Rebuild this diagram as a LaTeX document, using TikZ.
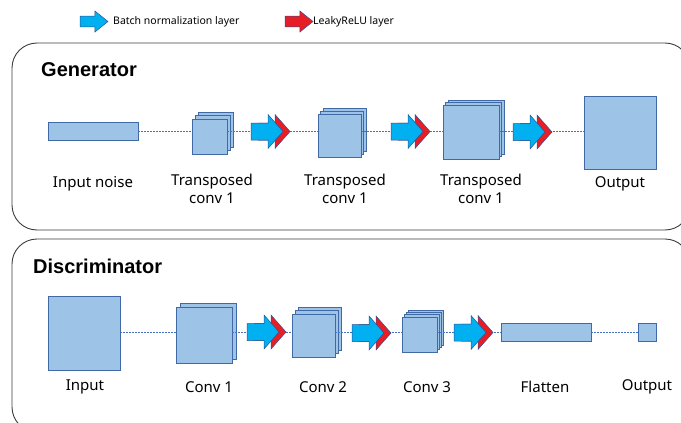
\documentclass[tikz,border=0pt]{standalone}
\usepackage{fontspec}
\setmainfont{Noto Sans}
\newfontfamily\titlefont{Liberation Sans}
\usepackage{tikz}
\usetikzlibrary{calc}

\definecolor{mapfill}{RGB}{157,195,230}
\definecolor{mapline}{RGB}{65,105,165}
\definecolor{bnblue}{RGB}{0,176,240}
\definecolor{relured}{RGB}{232,30,38}
\definecolor{arrowline}{RGB}{47,82,143}
\definecolor{linkblue}{RGB}{68,114,196}
\definecolor{frameline}{RGB}{60,60,60}

\tikzset{
  pics/bnshape/.style={code={
    \filldraw[fill=bnblue, draw=arrowline, line width=0.5pt]
      (0,-8.5) -- (17,-8.5) -- (17,-17) -- (32,0) -- (17,17) -- (17,8.5) -- (0,8.5) -- cycle;}},
  pics/relushape/.style={code={
    \filldraw[fill=relured, draw=arrowline, line width=0.5pt]
      (0,-8.5) -- (17,-8.5) -- (17,-17) -- (32,0) -- (17,17) -- (17,8.5) -- (0,8.5) -- cycle;}},
  pics/actarrow/.style={code={
    \pic at (7,0) {relushape};
    \pic at (0,0) {bnshape};}}
}

\begin{document}
\begin{tikzpicture}[x=1pt, y=-1pt,
  fmap/.style={draw=mapline, fill=mapfill, line width=0.9pt, inner sep=0},
  link/.style={draw=linkblue, line width=0.8pt, dash pattern=on 1.6pt off 1.4pt},
  frame/.style={draw=frameline, line width=0.9pt, rounded corners=25pt},
  title/.style={font=\titlefont\fontsize{20}{22}\selectfont\bfseries, inner sep=0, anchor=west},
  lbl/.style={font=\fontsize{15}{18}\selectfont, align=center, inner sep=0},
  legend/.style={font=\fontsize{10.5}{13}\selectfont, inner sep=0, anchor=west}]
  \useasboundingbox (0,0) rectangle (681,423);
  \clip (0,0) rectangle (681,423);

  % legend
  \pic[xscale=0.875, yscale=0.62] at (80,21.5) {bnshape};
  \node[legend] (bnlegend) at (113,21.5) {Batch normalization layer};
  \pic[xscale=0.875, yscale=0.62] at (285,21.5) {relushape};
  \node[legend] (relulegend) at (313,21.5) {LeakyReLU layer};

  % frames
  \draw[frame] (12,43) rectangle (690,230);
  \draw[frame] (12,239) rectangle (690,432);
  \node[title] (gentitle) at (41,70) {Generator};
  \node[title] (distitle) at (33,266) {Discriminator};

  % generator
  \node[fmap, minimum width=90pt, minimum height=18pt] (noise) at (93,131) {};
  \foreach \k in {2,1}
    \node[fmap, minimum size=35pt] at (209.5+\k*3.3, 136.5-\k*3.3) {};
  \node[fmap, minimum size=35pt] (tconv1) at (209.5,136.5) {};
  \foreach \k in {2,1}
    \node[fmap, minimum size=43pt] at (339.5+\k*2.6, 135.5-\k*2.6) {};
  \node[fmap, minimum size=43pt] (tconv2) at (339.5,135.5) {};
  \foreach \k in {2,1}
    \node[fmap, minimum width=56pt, minimum height=54pt] at (471+\k*2.5, 132-\k*2.5) {};
  \node[fmap, minimum width=56pt, minimum height=54pt] (tconv3) at (471,132) {};
  \node[fmap, minimum width=72pt, minimum height=73pt] (genout) at (620,132.5) {};

  \draw[link] (noise.east) -- (noise.east -| tconv1.west);
  \draw[link] (tconv1.east |- noise.east) -- (tconv2.west |- noise.east);
  \draw[link] (tconv2.east |- noise.east) -- (tconv3.west |- noise.east);
  \draw[link] (tconv3.east |- noise.east) -- (genout.west |- noise.east);

  \pic at (251,131.5) {actarrow};
  \pic at (391,131.5) {actarrow};
  \pic at (513,132) {actarrow};

  \node[lbl] (noiselbl) at (93,184) {Input noise};
  \node[lbl] (tconv1lbl) at (212,188.5) {Transposed\\conv 1};
  \node[lbl] (tconv2lbl) at (345,188.5) {Transposed\\conv 1};
  \node[lbl] (tconv3lbl) at (481,188.5) {Transposed\\conv 1};
  \node[lbl] (genoutlbl) at (620,184) {Output};

  % discriminator
  \node[fmap, minimum width=72pt, minimum height=74pt] (input) at (84,333) {};
  \node[fmap, minimum size=56pt] at (208,331) {};
  \node[fmap, minimum size=56pt] (conv1) at (204,335) {};
  \foreach \k in {2,1}
    \node[fmap, minimum size=43pt] at (313.5+\k*3.2, 335.5-\k*3.2) {};
  \node[fmap, minimum size=43pt] (conv2) at (313.5,335.5) {};
  \foreach \k in {3,2,1}
    \node[fmap, minimum size=35pt] at (419.5+\k*2.3, 334.5-\k*2.3) {};
  \node[fmap, minimum size=35pt] (conv3) at (419.5,334.5) {};
  \node[fmap, minimum width=90pt, minimum height=18pt] (flat) at (546,332) {};
  \node[fmap, minimum size=18pt] (disout) at (647,332) {};

  \draw[link] (input.east |- flat.west) -- (conv1.west |- flat.west);
  \draw[link] (conv1.east |- flat.west) -- (conv2.west |- flat.west);
  \draw[link] (conv2.east |- flat.west) -- (conv3.west |- flat.west);
  \draw[link] (conv3.east |- flat.west) -- (flat.west);
  \draw[link] (flat.east) -- (disout.west);

  \pic at (247,332) {actarrow};
  \pic at (352,333) {actarrow};
  \pic at (454,332.5) {actarrow};

  \node[lbl] (inputlbl) at (85,387) {Input};
  \node[lbl] (conv1lbl) at (209,387) {Conv 1};
  \node[lbl] (conv2lbl) at (323,387) {Conv 2};
  \node[lbl] (conv3lbl) at (427,387) {Conv 3};
  \node[lbl] (flatlbl) at (545,387) {Flatten};
  \node[lbl] (disoutlbl) at (647,387) {Output};
\end{tikzpicture}
\end{document}
